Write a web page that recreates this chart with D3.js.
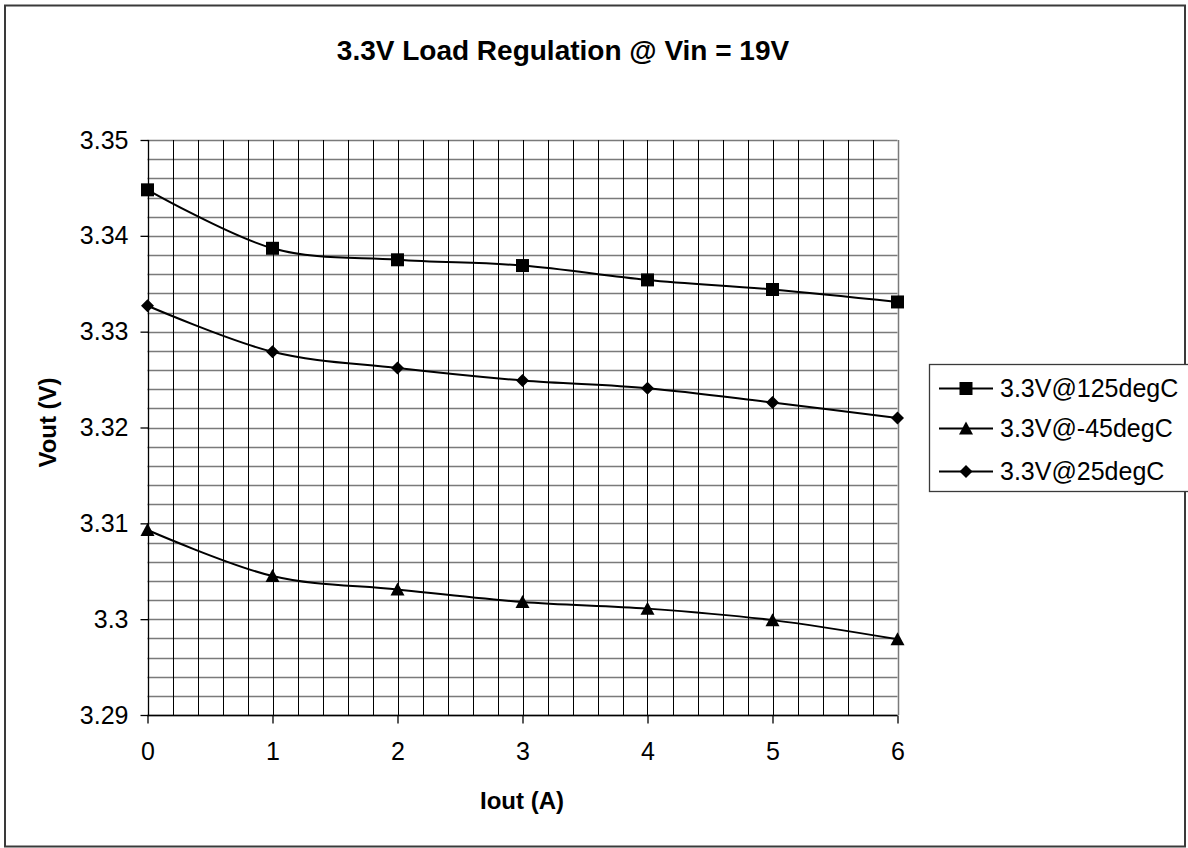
<!DOCTYPE html>
<html>
<head>
<meta charset="utf-8">
<script src="https://cdn.jsdelivr.net/npm/d3@7"></script>
<style>
  html, body { margin: 0; padding: 0; background: #fff; }
  svg { display: block; font-family: "Liberation Sans", Arial, sans-serif; }
</style>
</head>
<body>
<svg id="chart" width="1188" height="848"></svg>
<script>
// Output current (A)
const iout = [0, 1, 2, 3, 4, 5, 6];
// Output voltage (V) at each temperature
const v125 = [3.3448, 3.3387, 3.3375, 3.3369, 3.3354, 3.3344, 3.3331];
const vM45 = [3.3093, 3.3045, 3.3031, 3.3018, 3.3011, 3.2999, 3.2979];
const v25  = [3.3327, 3.3279, 3.3262, 3.3249, 3.3241, 3.3226, 3.3210];
const seriesNames = ["3.3V@125degC", "3.3V@-45degC", "3.3V@25degC"];
const seriesMarkers = ["square", "triangle", "diamond"];
const xTicks = [0, 1, 2, 3, 4, 5, 6];
const yTicks = [3.29, 3.30, 3.31, 3.32, 3.33, 3.34, 3.35];
const yTickLabels = ["3.29", "3.3", "3.31", "3.32", "3.33", "3.34", "3.35"];

const series = [v125, vM45, v25].map((vals, i) => ({
  name: seriesNames[i],
  marker: seriesMarkers[i],
  points: vals.map((v, j) => ({ x: iout[j], y: v }))
}));

const svg = d3.select("#chart");

// outer frame
svg.append("rect")
  .attr("x", 5).attr("y", 5.5).attr("width", 1180).attr("height", 841)
  .attr("fill", "#fff").attr("stroke", "#3a3a3a").attr("stroke-width", 2);

const plot = { left: 147.5, right: 897.5, top: 140, bottom: 715 };
const x = d3.scaleLinear().domain([0, 6]).range([plot.left, plot.right]);
const y = d3.scaleLinear().domain([3.29, 3.35]).range([plot.bottom, plot.top]);

// title
svg.append("text")
  .attr("x", 563).attr("y", 60)
  .attr("text-anchor", "middle")
  .attr("font-size", 28).attr("font-weight", "bold")
  .text("3.3V Load Regulation @ Vin = 19V");

// gridlines: horizontal every 0.002 (gray), vertical every 0.2 (black)
const g = svg.append("g");
const hGrid = d3.range(0, 31).map(k => 3.29 + k * 0.002);
g.selectAll("line.h").data(hGrid).join("line")
  .attr("class", "h")
  .attr("x1", plot.left).attr("x2", plot.right)
  .attr("y1", d => Math.round(y(d)) + 0.5).attr("y2", d => Math.round(y(d)) + 0.5)
  .attr("stroke", "#7a7a7a").attr("stroke-width", 1.5);
const vGrid = d3.range(1, 30).map(k => k * 0.2);
g.selectAll("line.v").data(vGrid).join("line")
  .attr("class", "v")
  .attr("x1", d => Math.round(x(d)) + 0.5).attr("x2", d => Math.round(x(d)) + 0.5)
  .attr("y1", plot.top).attr("y2", plot.bottom)
  .attr("stroke", "#000").attr("stroke-width", 1);
// right edge of plot area
g.append("line")
  .attr("x1", Math.round(x(6)) + 0.5).attr("x2", Math.round(x(6)) + 0.5)
  .attr("y1", plot.top).attr("y2", plot.bottom)
  .attr("stroke", "#7a7a7a").attr("stroke-width", 1.5);

// axes
const xAxis = d3.axisBottom(x).tickValues(xTicks).tickSize(8).tickPadding(19)
  .tickFormat(d3.format("d"));
const yAxis = d3.axisLeft(y).tickValues(yTicks).tickSize(8).tickPadding(12)
  .tickFormat((d, i) => yTickLabels[i]);

const gx = svg.append("g").attr("transform", `translate(0,${Math.round(plot.bottom) + 0.5})`).call(xAxis);
const gy = svg.append("g").attr("transform", `translate(${Math.round(plot.left) + 0.5},0)`).call(yAxis);
[gx, gy].forEach(a => {
  a.select(".domain").attr("stroke", "#000").attr("stroke-width", 1.3);
  a.selectAll(".tick line").attr("stroke", "#000").attr("stroke-width", 1.3);
  a.selectAll(".tick text").attr("font-size", 25).attr("fill", "#000")
    .attr("font-family", "Liberation Sans, Arial, sans-serif");
});
gx.select(".domain").attr("d", `M${plot.left},0H${plot.right}`);
gy.select(".domain").attr("d", `M0,${plot.top}V${plot.bottom}`);

// axis titles
svg.append("text")
  .attr("x", 522).attr("y", 809)
  .attr("text-anchor", "middle")
  .attr("font-size", 24).attr("font-weight", "bold")
  .text("Iout (A)");
svg.append("text")
  .attr("transform", "translate(56,422.5) rotate(-90)")
  .attr("text-anchor", "middle")
  .attr("font-size", 24).attr("font-weight", "bold")
  .text("Vout (V)");

// marker shapes
function markerPath(type) {
  if (type === "square") return "M-6.5,-6.5H6.5V6.5H-6.5Z";
  if (type === "triangle") return "M0,-7L7,6H-7Z";
  return "M0,-6.5L6.5,0L0,6.5L-6.5,0Z";
}

// smoothed series lines
const line = d3.line()
  .x(d => x(d.x)).y(d => y(d.y))
  .curve(d3.curveCatmullRom.alpha(0));

const sg = svg.append("g");
sg.selectAll("path.series").data(series).join("path")
  .attr("class", "series")
  .attr("d", d => line(d.points))
  .attr("fill", "none").attr("stroke", "#000").attr("stroke-width", 2);

series.forEach(s => {
  sg.append("g").selectAll("path").data(s.points).join("path")
    .attr("transform", d => `translate(${x(d.x)},${y(d.y)})`)
    .attr("d", markerPath(s.marker))
    .attr("fill", "#000");
});

// legend
const lg = svg.append("g");
lg.append("rect")
  .attr("x", 929.5).attr("y", 364.5).attr("width", 260).attr("height", 127)
  .attr("fill", "#fff").attr("stroke", "#3a3a3a").attr("stroke-width", 1.3);
const rowY = [388.5, 428.5, 471.5];
series.forEach((s, i) => {
  const r = lg.append("g").attr("transform", `translate(0,${rowY[i]})`);
  r.append("line").attr("x1", 939).attr("x2", 993).attr("y1", 0).attr("y2", 0)
    .attr("stroke", "#000").attr("stroke-width", 2);
  r.append("path").attr("transform", "translate(966,0)")
    .attr("d", markerPath(s.marker)).attr("fill", "#000");
  r.append("text").attr("x", 1000).attr("y", 0).attr("dy", "0.35em")
    .attr("font-size", 25).text(s.name);
});
</script>
</body>
</html>
